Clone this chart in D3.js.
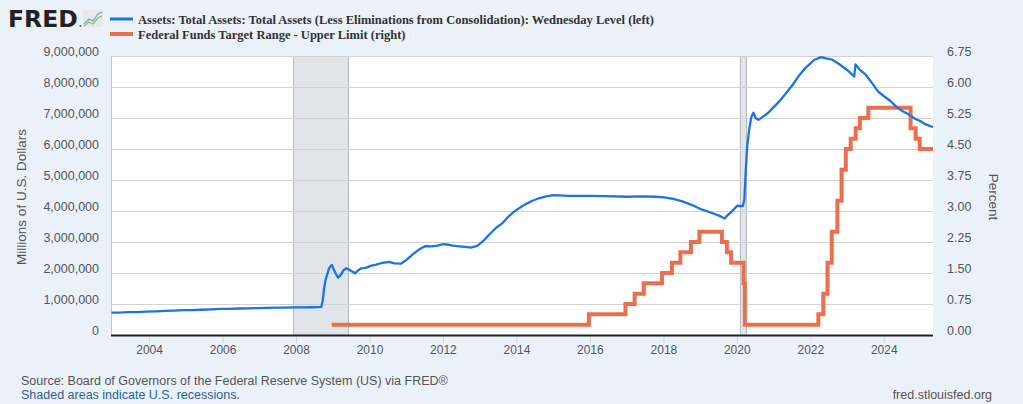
<!DOCTYPE html>
<html>
<head>
<meta charset="utf-8">
<script src="https://cdn.jsdelivr.net/npm/d3@7"></script>
<style>
  body { margin: 0; background: #eaf1f9; }
  svg { display: block; font-family: "Liberation Sans", Arial, sans-serif; }
</style>
</head>
<body>
<div id="chart"></div>
<script>
// Fed total assets (WALCL), millions of dollars
var assetDates = ["2002-12-18","2003-03-05","2003-06-04","2003-09-03","2003-12-03","2004-03-03","2004-06-02","2004-09-01","2004-12-01",
  "2005-03-02","2005-06-01","2005-09-07","2005-12-07","2006-03-01","2006-06-07","2006-09-06","2006-12-06","2007-03-07","2007-06-06",
  "2007-09-05","2007-12-05","2008-03-05","2008-06-04","2008-09-03","2008-09-17","2008-10-01","2008-10-15","2008-11-05","2008-11-19",
  "2008-12-17","2009-01-07","2009-01-28","2009-02-18","2009-03-18","2009-04-15","2009-05-13","2009-06-10","2009-07-08","2009-08-05",
  "2009-09-02","2009-10-07","2009-11-04","2009-12-02","2010-01-06","2010-03-03","2010-05-05","2010-07-07","2010-09-01","2010-11-03",
  "2010-12-29","2011-03-02","2011-05-04","2011-07-06","2011-09-07","2011-11-02","2011-12-28","2012-02-01","2012-04-04","2012-06-06",
  "2012-08-01","2012-10-03","2012-12-05","2013-02-06","2013-04-03","2013-06-05","2013-08-07","2013-10-02","2013-12-04","2014-02-05",
  "2014-04-02","2014-06-04","2014-08-06","2014-10-29","2014-12-31","2015-06-03","2015-12-30","2016-06-01","2016-12-28","2017-06-07",
  "2017-10-04","2018-01-03","2018-04-04","2018-07-04","2018-10-03","2018-12-26","2019-04-03","2019-07-03","2019-08-28","2019-09-25",
  "2019-11-06","2019-12-31","2020-02-26","2020-03-11","2020-03-25","2020-04-08","2020-04-29","2020-05-20","2020-06-10","2020-07-01",
  "2020-07-29","2020-09-02","2020-11-04","2020-12-30","2021-03-03","2021-05-05","2021-07-07","2021-09-01","2021-11-03","2021-12-29",
  "2022-02-02","2022-04-13","2022-06-01","2022-08-03","2022-10-05","2022-12-28","2023-03-08","2023-03-22","2023-05-03","2023-07-05",
  "2023-09-06","2023-11-01","2023-12-27","2024-03-06","2024-05-01","2024-07-03","2024-09-04","2024-11-06","2024-12-31","2025-02-05",
  "2025-04-02","2025-04-30"];
var assetValues = [719000,725000,735000,740000,755000,765000,775000,785000,800000,
  805000,815000,825000,840000,845000,855000,860000,870000,875000,880000,
  880000,890000,890000,895000,905000,1100000,1500000,1770000,2000000,2150000,
  2256000,2100000,1960000,1850000,1950000,2100000,2150000,2100000,2050000,1990000,
  2080000,2150000,2160000,2180000,2230000,2270000,2330000,2360000,2310000,2300000,
  2420000,2600000,2760000,2870000,2860000,2880000,2930000,2920000,2880000,2860000,
  2840000,2820000,2880000,3050000,3250000,3450000,3600000,3800000,3980000,4120000,
  4230000,4330000,4410000,4480000,4510000,4490000,4490000,4480000,4460000,4470000,
  4460000,4440000,4390000,4310000,4200000,4070000,3960000,3850000,3760000,3860000,
  3980000,4170000,4160000,4360000,5300000,6080000,6650000,7040000,7170000,7000000,
  6940000,7020000,7170000,7360000,7570000,7820000,8080000,8350000,8600000,8760000,
  8870000,8965000,8920000,8880000,8750000,8550000,8340000,8730000,8560000,8380000,
  8110000,7850000,7710000,7540000,7360000,7220000,7110000,6970000,6890000,6810000,
  6740000,6710000];

// Federal funds target range, upper limit (percent), change dates
var rateDates = ["2008-12-16","2015-12-17","2016-12-15","2017-03-16","2017-06-15","2017-12-14","2018-03-22","2018-06-14","2018-09-27",
  "2018-12-20","2019-08-01","2019-09-19","2019-10-31","2020-03-04","2020-03-16","2022-03-17","2022-05-05","2022-06-16","2022-07-28",
  "2022-09-22","2022-11-03","2022-12-15","2023-02-02","2023-03-23","2023-05-04","2023-07-27","2024-09-19","2024-11-08","2024-12-19",
  "2025-04-30"];
var rateValues = [0.25,0.50,0.75,1.00,1.25,1.50,1.75,2.00,2.25,
  2.50,2.25,2.00,1.75,1.25,0.25,0.50,1.00,1.75,2.50,
  3.25,4.00,4.50,4.75,5.00,5.25,5.50,5.00,4.75,4.50,
  4.50];

var recessions = [["2007-12-01","2009-06-01"],["2020-02-01","2020-04-01"]];
var leftTicks = [0,1000000,2000000,3000000,4000000,5000000,6000000,7000000,8000000,9000000];
var rightTicks = [0,0.75,1.5,2.25,3,3.75,4.5,5.25,6,6.75];
var yearTicks = [2004,2006,2008,2010,2012,2014,2016,2018,2020,2022,2024];

var legendLabels = ["Assets: Total Assets: Total Assets (Less Eliminations from Consolidation): Wednesday Level (left)",
  "Federal Funds Target Range - Upper Limit (right)"];

var W = 1023, H = 404;
var pL = 111.5, pR = 933, pT = 56, pB = 335;
var blue = "#1a73e8", red = "#eb6f4f";

var parse = d3.timeParse("%Y-%m-%d");
var assets = assetDates.map(function(d, i) { return {date: parse(d), value: assetValues[i]}; });
var rates = rateDates.map(function(d, i) { return {date: parse(d), value: rateValues[i]}; });

var svg = d3.select("#chart").append("svg").attr("width", W).attr("height", H);

var x = d3.scaleTime().domain([parse("2002-12-18"), parse("2025-04-30")]).range([pL, pR]);
var yL = d3.scaleLinear().domain([0, 9000000]).range([pB, pT]);
var yR = d3.scaleLinear().domain([0, 6.75]).range([pB, pT]);

// plot background
svg.append("rect").attr("x", pL).attr("y", pT).attr("width", pR - pL).attr("height", pB - pT)
  .attr("fill", "#fff");

// recessions
var rec = svg.append("g");
recessions.forEach(function(r) {
  var x0 = x(parse(r[0])), x1 = x(parse(r[1]));
  rec.append("rect").attr("x", x0).attr("y", pT).attr("width", x1 - x0).attr("height", pB - pT)
    .attr("fill", "#e1e5ea");
  rec.append("line").attr("x1", x0).attr("x2", x0).attr("y1", pT).attr("y2", pB).attr("stroke", "#b4b8bd");
  rec.append("line").attr("x1", x1).attr("x2", x1).attr("y1", pT).attr("y2", pB).attr("stroke", "#b4b8bd");
});

// gridlines
svg.append("g").selectAll("line").data(leftTicks).enter().append("line")
  .attr("x1", pL).attr("x2", pR)
  .attr("y1", function(d) { return Math.round(yL(d)) + 0.5; })
  .attr("y2", function(d) { return Math.round(yL(d)) + 0.5; })
  .attr("stroke", "#d2d2d2").attr("stroke-width", 1);

svg.append("line").attr("x1", pL).attr("x2", pL).attr("y1", pT).attr("y2", pB)
  .attr("stroke", "#c8c8c8");

// axis tick labels
var fmt = d3.format(",");
svg.append("g").selectAll("text").data(leftTicks).enter().append("text")
  .attr("x", 99).attr("y", function(d) { return yL(d) - 0.5; })
  .attr("text-anchor", "end").attr("font-size", 12.5).attr("fill", "#555")
  .text(function(d) { return fmt(d); });

svg.append("g").selectAll("text").data(rightTicks).enter().append("text")
  .attr("x", 947).attr("y", function(d) { return yR(d) - 0.5; })
  .attr("font-size", 12.5).attr("fill", "#555")
  .text(function(d) { return d.toFixed(2); });

var xa = svg.append("g");
xa.selectAll("line").data(yearTicks).enter().append("line")
  .attr("x1", function(d) { return x(new Date(d, 0, 1)); })
  .attr("x2", function(d) { return x(new Date(d, 0, 1)); })
  .attr("y1", pB).attr("y2", pB + 8).attr("stroke", "#ccd6e0");
xa.selectAll("text").data(yearTicks).enter().append("text")
  .attr("x", function(d) { return x(new Date(d, 0, 1)); }).attr("y", 354)
  .attr("text-anchor", "middle").attr("font-size", 12).attr("fill", "#555")
  .text(function(d) { return d; });

svg.append("line").attr("x1", pL - 0.5).attr("x2", pR).attr("y1", pB + 0.5).attr("y2", pB + 0.5)
  .attr("stroke", "#222").attr("stroke-width", 2);

// axis titles
svg.append("text").attr("transform", "translate(26,197) rotate(-90)")
  .attr("text-anchor", "middle").attr("font-size", 13.5).attr("fill", "#555")
  .text("Millions of U.S. Dollars");
svg.append("text").attr("transform", "translate(989,197) rotate(90)")
  .attr("text-anchor", "middle").attr("font-size", 13.5).attr("fill", "#555")
  .text("Percent");

// series
var rateLine = d3.line().curve(d3.curveStepAfter)
  .x(function(d) { return x(d.date); }).y(function(d) { return yR(d.value); });
var assetLine = d3.line()
  .x(function(d) { return x(d.date); }).y(function(d) { return yL(d.value); });

svg.append("path").datum(rates).attr("d", rateLine)
  .attr("fill", "none").attr("stroke", red).attr("stroke-width", 4);
svg.append("path").datum(assets).attr("d", assetLine)
  .attr("fill", "none").attr("stroke", blue).attr("stroke-width", 2.3).attr("stroke-linejoin", "round");

// logo
var logo = svg.append("g");
logo.append("text").attr("x", 8).attr("y", 27).attr("font-family", "'DejaVu Sans', sans-serif")
  .attr("font-weight", "bold").attr("font-size", 23.5).attr("fill", "#222").attr("letter-spacing", 0)
  .text("FRED");
logo.append("circle").attr("cx", 80.5).attr("cy", 26).attr("r", 1).attr("fill", "#555");
logo.append("rect").attr("x", 83).attr("y", 10).attr("width", 20).attr("height", 17).attr("fill", "#e6e8ea");
logo.append("path").attr("d", "M84,24 L89,19 L93,21 L98,14 L102,12").attr("fill", "none")
  .attr("stroke", "#6aa6d8").attr("stroke-width", 1.2);
logo.append("path").attr("d", "M84,26 L89,22 L93,24 L98,18 L102,16").attr("fill", "none")
  .attr("stroke", "#8cbf6a").attr("stroke-width", 1.2);

// legend
var leg = svg.append("g");
[blue, red].forEach(function(c, i) {
  var yy = 19 + i * 15;
  leg.append("line").attr("x1", 110).attr("x2", 133).attr("y1", yy).attr("y2", yy)
    .attr("stroke", c).attr("stroke-width", i ? 4 : 3);
  leg.append("text").attr("x", 138).attr("y", yy + 4.5)
    .attr("font-family", "'Liberation Serif', 'Times New Roman', serif").attr("font-weight", "bold")
    .attr("font-size", 12.5).attr("fill", "#333").text(legendLabels[i]);
});

// footer
svg.append("text").attr("x", 21).attr("y", 385).attr("font-size", 12.5).attr("fill", "#555")
  .text("Source: Board of Governors of the Federal Reserve System (US) via FRED\u00ae");
svg.append("text").attr("x", 21).attr("y", 399).attr("font-size", 12.5).attr("fill", "#2f5f98")
  .text("Shaded areas indicate U.S. recessions.");
svg.append("text").attr("x", 992).attr("y", 399).attr("text-anchor", "end").attr("font-size", 12.5).attr("fill", "#555")
  .text("fred.stlouisfed.org");
</script>
</body>
</html>
